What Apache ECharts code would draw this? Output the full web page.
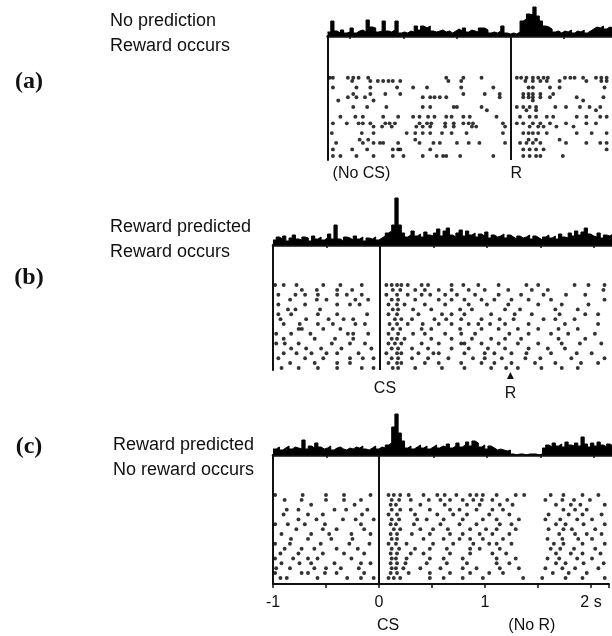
<!DOCTYPE html>
<html>
<head>
<meta charset="utf-8">
<script src="https://cdn.jsdelivr.net/npm/echarts@6/dist/echarts.min.js"></script>
<style>
  html, body { margin: 0; padding: 0; background: #fff; }
  #chart { width: 612px; height: 636px; }
</style>
</head>
<body>
<div id="chart"></div>
<script>
// Spike times in seconds relative to CS onset; each entry is [trial, [spike times]].
const rasterA = [
  [1,  [-0.47, -0.44, -0.30, -0.25, -0.20, -0.11, 0.62, 0.78, 0.95, 1.28, 1.32, 1.37, 1.43, 1.48, 1.53, 1.57, 1.73, 1.78, 1.82, 1.90, 2.02, 2.07, 2.12]],
  [2,  [-0.26, -0.09, -0.02, 0.03, 0.08, 0.12, 0.19, 0.64, 0.76, 1.36, 1.43, 1.50, 1.56, 1.68, 1.93, 2.07, 2.12]],
  [4,  [-0.44, -0.22, -0.09, 0.16, 0.31, 0.44, 0.76, 1.06, 1.39, 1.43, 1.59, 1.68, 2.10]],
  [6,  [-0.25, -0.09, 0.05, 0.19, 0.78, 0.98, 1.12, 1.34, 1.39, 1.43, 1.50, 1.62]],
  [7,  [-0.30, -0.22, -0.14, 0.40, 0.47, 0.51, 0.56, 0.62, 1.12, 1.34, 1.39, 1.43, 1.50, 1.59, 1.84, 2.09]],
  [8,  [-0.39, -0.06, 1.43, 1.90]],
  [10, [-0.25, -0.12, 0.06, 0.40, 0.47, 0.69, 0.72, 0.95, 1.28, 1.34, 1.40, 1.46, 1.64, 1.74, 1.87, 1.96, 2.06]],
  [11, [1.00, 1.37, 1.46, 2.02]],
  [13, [-0.37, -0.23, -0.16, 0.03, 0.17, 0.31, 0.37, 0.45, 0.51, 0.62, 0.67, 0.78, 0.84, 1.09, 1.31, 1.40, 1.46, 1.56, 1.62, 1.84, 1.93, 2.06, 2.12]],
  [15, [-0.44, -0.31, -0.20, -0.16, -0.09, 0.05, 0.09, 0.14, 0.37, 0.44, 0.48, 0.61, 0.69, 0.78, 0.83, 0.87, 1.15, 1.28, 1.34, 1.43, 1.50, 1.59, 1.74, 1.93, 2.02]],
  [16, [-0.06, 0.02, 0.11, 0.34, 0.40, 0.47, 0.61, 0.69, 0.86, 0.90, 1.17, 1.40, 1.48, 1.53, 1.65, 1.81]],
  [18, [-0.45, -0.17, -0.06, 0.25, 0.33, 0.40, 0.47, 0.58, 0.67, 0.81, 1.15, 1.34, 1.39, 1.43, 1.48, 1.56, 1.84, 1.98, 2.12]],
  [20, [-0.19, -0.11, 0.33, 1.39, 1.46, 1.68]],
  [21, [-0.41, -0.16, -0.06, 0.00, 0.03, 0.17, 0.37, 0.50, 0.56, 0.72, 0.83, 0.93, 1.17, 1.31, 1.37, 1.43, 1.50, 1.74, 1.93, 2.06, 2.12]],
  [23, [-0.44, -0.26, -0.12, 0.12, 0.17, 0.19, 0.47, 1.34, 1.40, 1.46, 1.53, 2.12]],
  [25, [-0.44, -0.37, -0.22, -0.06, 0.12, 0.22, 0.40, 0.53, 0.59, 0.62, 0.75, 1.06, 1.34, 1.40, 1.46, 1.50, 1.71]]
];

const rasterB = [
  [1,  [-0.98, -0.90, -0.78, -0.53, -0.37, -0.17, 0.06, 0.11, 0.16, 0.20, 0.26, 0.39, 0.45, 0.67, 0.78, 0.92, 1.11, 1.37, 1.48, 1.82, 1.95, 2.10]],
  [2,  [-0.73, -0.59, -0.40, -0.26, 0.12, 0.19, 0.33, 0.42, 0.55, 0.67, 0.83, 0.98, 1.20, 1.42, 1.57, 2.09]],
  [3,  [-0.95, -0.79, -0.70, -0.58, -0.40, -0.31, -0.17, 0.06, 0.16, 0.26, 0.39, 0.47, 0.61, 0.72, 0.89, 1.11, 1.32, 1.53, 1.74, 1.92]],
  [4,  [-0.84, -0.59, -0.50, -0.23, -0.11, 0.11, 0.17, 0.33, 0.55, 0.67, 0.79, 0.95, 1.07, 1.23, 1.39, 1.60, 2.10]],
  [5,  [-0.95, -0.70, -0.40, -0.28, -0.19, 0.08, 0.16, 0.23, 0.42, 0.61, 0.83, 1.00, 1.20, 1.48, 1.70, 1.95]],
  [6,  [-0.86, -0.79, -0.56, 0.12, 0.17, 0.31, 0.48, 0.75, 0.86, 1.17, 1.31, 1.64, 1.85]],
  [7,  [-0.95, -0.83, -0.58, -0.40, -0.12, 0.08, 0.16, 0.36, 0.58, 0.67, 0.79, 1.04, 1.26, 1.42, 1.68, 1.92, 2.04]],
  [8,  [-0.93, -0.69, -0.48, -0.34, -0.25, 0.14, 0.20, 0.30, 0.51, 0.62, 0.76, 0.95, 1.12, 1.25, 1.53, 1.64, 1.82]],
  [9,  [-0.90, -0.75, -0.58, -0.44, -0.23, -0.14, 0.09, 0.16, 0.26, 0.40, 0.55, 0.67, 0.83, 0.92, 1.03, 1.17, 1.39, 1.73, 2.04]],
  [10, [-0.76, -0.73, -0.53, -0.37, 0.12, 0.19, 0.39, 0.48, 0.75, 0.95, 1.11, 1.29, 1.48, 1.67, 1.85]],
  [11, [-0.97, -0.83, -0.65, -0.30, -0.25, -0.11, 0.08, 0.17, 0.31, 0.42, 0.61, 0.76, 0.89, 1.21, 1.39, 1.60, 1.76, 2.01]],
  [12, [-0.90, -0.61, -0.42, -0.25, 0.11, 0.16, 0.23, 0.48, 0.67, 0.86, 1.04, 1.17, 1.32, 1.67, 1.92]],
  [13, [-0.97, -0.89, -0.76, -0.45, -0.28, -0.14, 0.08, 0.14, 0.20, 0.39, 0.55, 0.76, 0.79, 0.95, 1.11, 1.29, 1.48, 1.70, 1.87, 2.07]],
  [14, [-0.83, -0.69, -0.55, -0.36, -0.08, 0.11, 0.17, 0.30, 0.45, 0.67, 0.83, 1.01, 1.17, 1.39, 1.57, 1.73]],
  [15, [-0.90, -0.78, -0.64, -0.50, -0.40, -0.20, 0.06, 0.16, 0.20, 0.36, 0.50, 0.55, 0.79, 0.98, 1.07, 1.23, 1.37, 1.60, 1.84, 1.98]],
  [16, [-0.95, -0.70, -0.53, -0.28, -0.16, -0.06, 0.11, 0.17, 0.30, 0.45, 0.64, 0.87, 0.98, 1.14, 1.36, 1.50, 1.79, 2.10]],
  [17, [-0.84, -0.61, -0.40, -0.28, 0.08, 0.16, 0.20, 0.42, 0.55, 0.76, 0.95, 1.07, 1.23, 1.45, 1.64, 1.88, 2.04]],
  [18, [-0.92, -0.76, -0.58, -0.40, -0.17, -0.06, 0.12, 0.17, 0.33, 0.58, 0.79, 1.04, 1.18, 1.29, 1.51, 1.70, 1.85]]
];

const rasterC = [
  [1,  [-0.98, -0.72, -0.50, -0.33, -0.08, 0.09, 0.14, 0.20, 0.28, 0.42, 0.55, 0.62, 0.73, 0.86, 0.92, 0.98, 1.11, 1.29, 1.37, 1.62, 1.74, 1.92, 2.07]],
  [2,  [-0.89, -0.73, -0.50, -0.33, -0.17, 0.12, 0.19, 0.30, 0.47, 0.58, 0.67, 0.79, 0.89, 0.97, 1.07, 1.21, 1.57, 1.73, 1.84, 1.99]],
  [3,  [-0.64, -0.23, 0.11, 0.16, 0.39, 0.62, 0.83, 0.95, 1.14, 1.26, 1.67, 1.81, 1.90, 2.13]],
  [4,  [-0.87, -0.76, -0.42, -0.31, -0.11, 0.12, 0.20, 0.30, 0.48, 0.67, 0.76, 0.92, 1.07, 1.17, 1.74, 1.85, 1.96]],
  [5,  [-0.90, -0.67, -0.53, -0.16, 0.09, 0.17, 0.34, 0.55, 0.70, 0.83, 1.04, 1.23, 1.60, 1.79, 1.92, 2.10]],
  [6,  [-0.76, -0.59, -0.34, -0.22, -0.05, 0.12, 0.19, 0.36, 0.45, 0.61, 0.79, 0.98, 1.11, 1.32, 1.57, 1.71, 1.87, 2.01]],
  [7,  [-0.98, -0.86, -0.70, -0.51, -0.17, 0.11, 0.16, 0.33, 0.58, 0.76, 0.92, 1.14, 1.25, 1.67, 1.76, 1.93, 2.13]],
  [8,  [-0.78, -0.53, -0.40, -0.14, 0.14, 0.20, 0.39, 0.51, 0.65, 0.86, 1.01, 1.11, 1.29, 1.60, 1.74, 1.82, 2.04]],
  [9,  [-0.92, -0.64, -0.47, -0.26, -0.08, 0.11, 0.17, 0.31, 0.48, 0.67, 0.79, 0.95, 1.07, 1.23, 1.70, 1.85, 1.96, 2.10]],
  [10, [-0.83, -0.67, -0.45, -0.25, 0.12, 0.17, 0.42, 0.61, 0.76, 0.86, 0.98, 1.17, 1.59, 1.73, 1.88, 2.01]],
  [11, [-0.98, -0.84, -0.55, -0.28, -0.09, 0.09, 0.16, 0.26, 0.51, 0.70, 0.89, 1.04, 1.11, 1.25, 1.65, 1.74, 1.92, 2.13]],
  [12, [-0.89, -0.73, -0.61, -0.40, -0.20, 0.12, 0.19, 0.34, 0.48, 0.64, 0.86, 0.95, 1.14, 1.62, 1.71, 1.84, 2.04]],
  [13, [-0.93, -0.76, -0.53, -0.33, -0.14, 0.11, 0.17, 0.30, 0.42, 0.67, 0.86, 1.07, 1.20, 1.67, 1.81, 1.92, 2.09]],
  [14, [-0.98, -0.81, -0.67, -0.58, -0.26, 0.12, 0.16, 0.26, 0.48, 0.61, 0.79, 1.11, 1.29, 1.59, 1.70, 1.87, 2.01]],
  [15, [-0.92, -0.75, -0.64, -0.42, -0.17, -0.08, 0.11, 0.17, 0.25, 0.45, 0.64, 0.83, 1.11, 1.23, 1.67, 1.76, 1.93, 2.12]],
  [16, [-0.97, -0.84, -0.61, -0.50, -0.36, -0.19, 0.12, 0.16, 0.23, 0.39, 0.58, 0.79, 0.92, 1.14, 1.32, 1.57, 1.73, 1.85, 2.07]],
  [17, [-0.98, -0.73, -0.67, -0.51, -0.40, -0.14, 0.11, 0.17, 0.28, 0.48, 0.67, 0.86, 1.04, 1.17, 1.64, 1.79, 1.96]],
  [18, [-0.93, -0.87, -0.58, -0.30, -0.17, -0.05, 0.09, 0.14, 0.20, 0.48, 0.61, 0.79, 0.98, 1.36, 1.54, 1.76, 1.92, 2.13]]
];

// Peri-event histograms: spike counts per 30 ms bin.
const binWidth = 0.03;
const histStartA = -0.49;
const histA = [4,15,5,3,6,3,4,8,3,5, 6,4,16,9,8,4,5,15,5,4, 6,15,3,4,3,5,4,10,6,10,
  8,10,5,4,5,6,4,5,3,5, 7,5,8,4,6,5,4,8,8,6, 3,4,3,5,10,3,2,3,2,4,
  15,17,22,21,29,20,15,10,9,7, 4,5,3,5,4,6,3,5,4,6, 3,5,7,9,8,10,7,9,8];
const histStartBC = -1.0;
const histB = [5,8,6,9,4,7,10,6,5,8, 7,4,9,6,8,5,7,11,6,20, 6,4,8,7,5,9,6,8,4,7,
  6,8,5,7,9,12,14,20,47,20, 12,8,10,14,9,11,8,13,10,9, 12,16,9,14,17,10,8,12,15,9,
  14,10,12,8,11,9,13,7,10,8, 9,11,7,10,8,6,9,7,8,10, 6,9,7,5,8,10,7,9,6,11,
  8,7,12,9,14,10,13,17,11,9, 8,12,7,10,9,11];
const histC = [6,8,5,7,9,6,8,7,6,15, 6,9,7,12,8,6,7,9,5,7, 8,6,5,7,6,8,7,9,6,5,
  7,9,6,8,7,10,12,28,41,22, 14,7,9,6,8,10,7,9,6,8, 10,7,9,8,11,7,9,12,8,10,
  13,9,14,12,8,10,6,9,7,5, 6,5,4,5,1,0,1,1,0,1, 1,1,0,1,7,10,8,12,9,11,
  8,13,10,9,12,9,18,11,8,12, 9,13,10,8,11,9];

// Event times (s) and time-axis tick labels.
const csTime = 0;
const rewardTime = 1.22;
const tickLabels = { '-1': '-1', '0': '0', '1': '1', '2': '2 s' };
const histTicksA = [-0.28, 0.22, 0.72, 1.72];
const histTicksBC = [-0.5, 0.5, 1.0, 1.5, 2.0];

const tMax = 2.17;
const pxPerSec = 107;
const leftBC = 273;
const leftA = leftBC + (histStartA - histStartBC) * pxPerSec;
const widthBC = (tMax - histStartBC) * pxPerSec;
const widthA = (tMax - histStartA) * pxPerSec;

const ink = '#111';
const sans = '"Liberation Sans", Arial, sans-serif';

function rasterPoints(rows) {
  const pts = [];
  rows.forEach(([trial, times]) => times.forEach(t => pts.push([t, trial])));
  return pts;
}
function histPoints(start, counts) {
  const pts = counts.map((c, i) => [start + i * binWidth, c]);
  pts.push([start + counts.length * binWidth, counts[counts.length - 1]]);
  return pts;
}

const grids = [
  { left: leftA, top: 1, width: widthA, height: 35 },      // histogram a
  { left: leftA, top: 36, width: widthA, height: 124 },    // raster a
  { left: leftBC, top: 195, width: widthBC, height: 50 },  // histogram b
  { left: leftBC, top: 245, width: widthBC, height: 125 }, // raster b
  { left: leftBC, top: 405, width: widthBC, height: 50 },  // histogram c
  { left: leftBC, top: 455, width: widthBC, height: 129 }  // raster c
];

function histX(gridIndex, min, ticks) {
  return {
    type: 'value', gridIndex, min, max: tMax,
    axisLine: { show: true, onZero: false, lineStyle: { color: ink, width: 2.5 } },
    axisTick: { show: true, customValues: ticks, length: 3, lineStyle: { color: ink, width: 1.5 } },
    axisLabel: { show: false }, splitLine: { show: false }
  };
}
function hiddenX(gridIndex, min) {
  return { type: 'value', gridIndex, min, max: tMax, show: false, splitLine: { show: false } };
}
function histY(gridIndex, max) {
  return { type: 'value', gridIndex, min: 0, max, show: false, splitLine: { show: false } };
}
function rasterY(gridIndex, min, max) {
  return {
    type: 'value', gridIndex, min, max, inverse: true,
    axisLine: { show: true, onZero: false, lineStyle: { color: ink, width: 2 } },
    axisTick: { show: false }, axisLabel: { show: false }, splitLine: { show: false }
  };
}

function eventLine(t) {
  return {
    silent: true, symbol: 'none', label: { show: false },
    lineStyle: { color: ink, width: 2, type: 'solid' },
    emphasis: { disabled: true },
    data: [{ xAxis: t }]
  };
}
function histSeries(idx, start, counts) {
  return {
    type: 'line', xAxisIndex: idx, yAxisIndex: idx, step: 'end',
    data: histPoints(start, counts), showSymbol: false, silent: true,
    lineStyle: { color: '#000', width: 1 }, areaStyle: { color: '#000', opacity: 1 }
  };
}
function rasterSeries(idx, rows, line) {
  return {
    type: 'scatter', xAxisIndex: idx, yAxisIndex: idx,
    data: rasterPoints(rows), symbol: 'circle', symbolSize: 3.9, silent: true,
    itemStyle: { color: '#000' }, markLine: eventLine(line)
  };
}

const chart = echarts.init(document.getElementById('chart'), null, { renderer: 'canvas' });

chart.setOption({
  animation: false,
  backgroundColor: '#fff',
  grid: grids,
  xAxis: [
    histX(0, histStartA, histTicksA),
    hiddenX(1, histStartA),
    histX(2, histStartBC, histTicksBC),
    hiddenX(3, histStartBC),
    histX(4, histStartBC, histTicksBC),
    {
      type: 'value', gridIndex: 5, min: histStartBC, max: tMax, interval: 0.5,
      axisLine: { show: true, onZero: false, lineStyle: { color: ink, width: 2 } },
      axisTick: { show: true, length: 4, lineStyle: { color: ink, width: 1.5 } },
      axisLabel: {
        margin: 11, color: ink, fontFamily: sans, fontSize: 16,
        formatter: v => (Number.isInteger(v) && tickLabels[String(v)]) ? tickLabels[String(v)] : ''
      },
      splitLine: { show: false }
    }
  ],
  yAxis: [
    histY(0, 35),
    rasterY(1, -11.8, 26.25),
    histY(2, 50),
    rasterY(3, -7.2, 18.42),
    histY(4, 50),
    rasterY(5, -7.2, 19.24)
  ],
  series: [
    histSeries(0, histStartA, histA),
    rasterSeries(1, rasterA, rewardTime),
    histSeries(2, histStartBC, histB),
    rasterSeries(3, rasterB, csTime),
    histSeries(4, histStartBC, histC),
    rasterSeries(5, rasterC, csTime)
  ]
});

// Text annotations, anchored to event times where they label an event.
const xA = t => chart.convertToPixel({ xAxisIndex: 1 }, t);
const xB = t => chart.convertToPixel({ xAxisIndex: 3 }, t);
const xC = t => chart.convertToPixel({ xAxisIndex: 5 }, t);

function txt(text, x, y, opts) {
  const o = opts || {};
  const align = o.align || 'left';
  return {
    type: 'text', silent: true,
    style: {
      text, x, y,
      font: o.font || ('18px ' + sans),
      fill: ink,
      textAlign: align, align: align,
      textVerticalAlign: 'middle', verticalAlign: 'middle'
    }
  };
}
const panelFont = 'bold 24px "Liberation Serif", "Times New Roman", serif';
const eventFont = '16px ' + sans;
const rB = xB(rewardTime);

chart.setOption({
  graphic: [
    txt('(a)', 29, 82, { font: panelFont, align: 'center' }),
    txt('(b)', 29, 278, { font: panelFont, align: 'center' }),
    txt('(c)', 29, 447, { font: panelFont, align: 'center' }),
    txt('No prediction', 110, 21),
    txt('Reward occurs', 110, 46),
    txt('Reward predicted', 110, 227),
    txt('Reward occurs', 110, 252),
    txt('Reward predicted', 113, 445),
    txt('No reward occurs', 113, 470),
    txt('(No CS)', xA(histStartA) + 5, 174, { font: eventFont }),
    txt('R', xA(rewardTime), 174, { font: eventFont }),
    txt('CS', xB(csTime) + 5, 389, { font: eventFont, align: 'center' }),
    {
      type: 'polygon', silent: true,
      shape: { points: [[rB, 372], [rB - 3.5, 379], [rB + 3.5, 379]] },
      style: { fill: ink }
    },
    txt('R', rB, 394, { font: eventFont, align: 'center' }),
    txt('CS', xC(csTime) - 2, 626, { font: eventFont }),
    txt('(No R)', xC(rewardTime), 626, { font: eventFont })
  ]
});
</script>
</body>
</html>
